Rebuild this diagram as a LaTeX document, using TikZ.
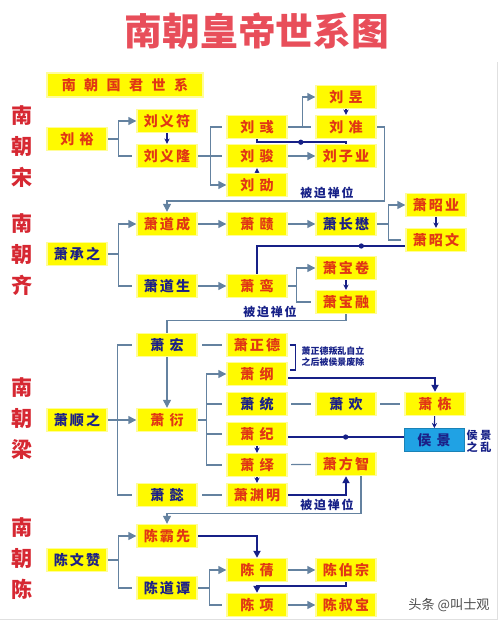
\documentclass[tikz,border=0pt]{standalone}
\usepackage{fontspec}
\usepackage{tikz}
\usetikzlibrary{arrows.meta,positioning,calc,decorations.markings}
\newfontfamily\cjk[LetterSpace=15]{Noto Sans CJK SC}
\newfontfamily\cjkwide[LetterSpace=60]{Noto Sans CJK SC}
\newfontfamily\cjkplain{Noto Sans CJK SC}
\definecolor{ktitle}{RGB}{232,78,90}
\definecolor{kera}{RGB}{214,40,50}
\definecolor{kred}{RGB}{225,55,20}
\definecolor{kblue}{RGB}{28,32,135}
\definecolor{kline}{RGB}{100,130,160}
\definecolor{kdark}{RGB}{22,32,135}
\definecolor{kyel}{RGB}{255,250,0}
\definecolor{khou}{RGB}{32,162,228}
\pgfdeclarelayer{bg}
\pgfsetlayers{bg,main}
\tikzset{
  king/.style={fill=kyel, draw=kyel!40, line width=0.8pt, minimum width=1.2cm,
    minimum height=0.46cm, inner sep=0pt, font=\cjk\bfseries\fontsize{8}{9}\selectfont},
  kr/.style={king, text=kred},
  kb/.style={king, text=kblue},
  hou/.style={king, fill=khou, draw=khou!80!black, line width=0.4pt, text=kblue},
  era/.style={text=kera, align=center, font=\cjkplain\bfseries\fontsize{12}{17.6}\selectfont},
  pass/.style={text=kdark, font=\cjk\bfseries\fontsize{6.8}{8}\selectfont},
  note/.style={text=kdark, align=left, font=\cjkplain\bfseries\fontsize{5.1}{6.2}\selectfont},
  tree/.style={draw=kline, line width=0.7pt},
  treearr/.style={tree, -{Triangle[length=4.5pt,width=4.5pt]}},
  plain/.style={tree, shorten >=2.5pt},
  usurp/.style={draw=kdark, line width=1.1pt},
  usurparr/.style={usurp, -{Triangle[length=4pt,width=4pt]}},
  smallarr/.style={draw=kdark, line width=0.6pt, -{Stealth[length=3pt,width=3pt]}},
  dotmid/.style={postaction={decorate}, decoration={markings,
    mark=at position #1 with {\fill[kdark] (0,0) circle (1.5pt);}}}
}

\begin{document}
\begin{tikzpicture}[x=0.02cm, y=-0.02cm]
  \useasboundingbox (0,0) rectangle (500,622);
  \draw[black!12] (0,619) -- (497,619) -- (497,62);
  % title
  \node[text=ktitle, font=\cjkplain\bfseries\fontsize{21.5}{24}\selectfont] (title) at (257,31) {南朝皇帝世系图};
  \node[kr, minimum width=3.12cm, minimum height=0.48cm, font=\cjkwide\bfseries\fontsize{8}{9}\selectfont] (head) at (125,85) {南朝国君世系};
  \node[era] (song) at (22,147) {南\\朝\\宋};
  \node[era] (qi) at (22,255) {南\\朝\\齐};
  \node[era] (liang) at (22,419) {南\\朝\\梁};
  \node[era] (chen) at (22,559) {南\\朝\\陈};
  % song
  \node[kr] (lyu) at (77,139) {刘 裕};
  \node[kr] (lyifu) at (167,121) {刘义符};
  \node[kr] (lyilong) at (167,156) {刘义隆};
  \node[kr] (lyu2) at (257,127) {刘 彧};
  \node[kr] (ljun) at (257,156) {刘 骏};
  \node[kr] (lshao) at (257,185) {刘 劭};
  \node[kr] (lyu3) at (346,97) {刘 昱};
  \node[kr] (lzhun) at (346,127) {刘 准};
  \node[kr] (lziye) at (346,156) {刘子业};
  % qi
  \node[kb] (xcz) at (77,254) {萧承之};
  \node[kr] (xdc) at (167,224) {萧道成};
  \node[kb] (xds) at (167,286) {萧道生};
  \node[kr] (xze) at (257,224) {萧 赜};
  \node[kb] (xczm) at (346,224) {萧长懋};
  \node[kr] (xzy) at (436,205) {萧昭业};
  \node[kr] (xzw) at (436,240) {萧昭文};
  \node[kr] (xluan) at (257,286) {萧 鸾};
  \node[kr] (xbj) at (346,268) {萧宝卷};
  \node[kr] (xbr) at (346,302) {萧宝融};
  % liang
  \node[kb] (xsz) at (77,420) {萧顺之};
  \node[kb] (xhong) at (167,345) {萧 宏};
  \node[kr] (xyan) at (167,420) {萧 衍};
  \node[kb] (xyi) at (167,495) {萧 懿};
  \node[kr] (xzd) at (257,345) {萧正德};
  \node[kr] (xgang) at (257,374) {萧 纲};
  \node[kb] (xtong) at (257,404) {萧 统};
  \node[kr] (xji) at (257,434) {萧 纪};
  \node[kr] (xyi2) at (257,465) {萧 绎};
  \node[kr] (xym) at (257,495) {萧渊明};
  \node[kb] (xhuan) at (346,404) {萧 欢};
  \node[kr] (xfz) at (346,464) {萧方智};
  \node[kr] (xdong) at (435,404) {萧 栋};
  \node[hou] (hj) at (434,440) {侯 景};
  % chen
  \node[kb] (cwz) at (77,560) {陈文赞};
  \node[kr] (cbx) at (167,536) {陈霸先};
  \node[kb] (cdt) at (167,588) {陈道谭};
  \node[kr] (cqian) at (257,570) {陈 蒨};
  \node[kr] (cbz) at (346,570) {陈伯宗};
  \node[kr] (cxu) at (257,605) {陈 项};
  \node[kr] (csb) at (346,605) {陈叔宝};
  % labels
  \node[pass] (pass1) at (327,193) {被迫禅位};
  \node[pass] (pass2) at (270,312) {被迫禅位};
  \node[pass] (pass3) at (327,505) {被迫禅位};
  \node[note] (zdnote) at (333,357) {萧正德叛乱自立\\之后被侯景废除};
  \node[note, align=center, font=\cjkplain\bfseries\fontsize{6.3}{7}\selectfont] (hjnote) at (479,441) {侯 景\\之 乱};
  \node[text=black!70, font=\cjkplain\fontsize{7.5}{9}\selectfont] (wm) at (449,605) {头条 @叫士观};

  \begin{pgfonlayer}{bg}
    % song
    \draw[treearr] (lyu.east) -- ++(11,0) |- (lyifu.west);
    \draw[plain] (lyu.east) -- ++(11,0) |- (lyilong.west);
    \draw[smallarr] (lyifu) -- (lyilong);
    \draw[plain] (lyilong.east) -- ++(13,0) |- (lyu2.west);
    \draw[plain] (lyilong.east) -- ++(13,0) |- (ljun.west);
    \draw[treearr] (lyilong.east) -- ++(13,0) |- (lshao.west);
    \draw[treearr] (ljun) -- (lziye);
    \draw[smallarr] (lshao) -- (ljun);
    \draw[treearr] (lyu2.east) -- ++(15,0) |- (lyu3.west);
    \draw[plain] (lyu2) -- (lzhun);
    \draw[smallarr] (lyu3) -- (lzhun);
    \draw[usurp, dotmid=0.5] (lyu2.south) -- ++(0,3) -| (lziye.north);
    \draw[treearr] (lzhun.east) -- ++(8,0) -- ++(0,74) -| (xdc.north);
    % qi
    \draw[treearr] (xcz.east) -- ++(11,0) |- (xdc.west);
    \draw[plain] (xcz.east) -- ++(11,0) |- (xds.west);
    \draw[treearr] (xdc) -- (xze);
    \draw[treearr] (xze) -- (xczm);
    \draw[treearr] (xczm.east) -- ++(12,0) |- (xzy.west);
    \draw[plain] (xczm.east) -- ++(12,0) |- (xzw.west);
    \draw[smallarr] (xzy) -- (xzw);
    \draw[usurp, dotmid=0.25] ($(xzw.west)+(0,6)$) -| (xluan.north);
    \draw[treearr] (xds) -- (xluan);
    \draw[treearr] (xluan.east) -- ++(9,0) |- (xbj.west);
    \draw[plain] (xluan.east) -- ++(9,0) |- (xbr.west);
    \draw[smallarr] (xbj) -- (xbr);
    \draw[treearr] (xbr.south) -- ++(0,6) -| (xyan.north);
    % liang
    \draw[treearr] (xsz) -- (xyan);
    \draw[plain] (xsz.east) -- ++(10,0) |- (xhong.west);
    \draw[plain] (xsz.east) -- ++(10,0) |- (xyi.west);
    \draw[plain, shorten <=2.5pt] (xhong) -- (xzd);
    \draw[plain, shorten <=2.5pt] (xyi) -- (xym);
    \draw[treearr] (xyan.east) -- ++(9,0) |- (xgang.west);
    \draw[plain] (xyan.east) -- ++(9,0) |- (xtong.west);
    \draw[plain] (xyan.east) -- ++(9,0) |- (xji.west);
    \draw[plain] (xyan.east) -- ++(9,0) |- (xyi2.west);
    \draw[draw=kdark, line width=0.8pt] ($(xzd.east)+(2,0)$) -- ++(6,0) |- ($(xgang.east)+(2,-4)$);
    \draw[usurparr] ($(xgang.east)+(0,4)$) -| (xdong.north);
    \draw[plain, shorten <=2pt] (xtong) -- (xhuan);
    \draw[plain, shorten <=2pt] (xhuan) -- (xdong);
    \draw[smallarr] (xdong) -- (hj);
    \draw[usurp, dotmid=0.5] ($(xji.east)+(0,3)$) -- ($(hj.west)+(0,-3)$);
    \draw[smallarr] (xji) -- (xyi2);
    \draw[smallarr] (xyi2) -- (xym);
    \draw[plain, shorten <=2pt] (xyi2) -- (xfz);
    \draw[usurparr] (xym.east) -| (xfz.south);
    \draw[treearr] ($(xfz.south)+(15,0)$) -- ++(0,37) -| (cbx.north);
    % chen
    \draw[treearr] (cwz.east) -- ++(11,0) |- (cbx.west);
    \draw[plain] (cwz.east) -- ++(11,0) |- (cdt.west);
    \draw[usurparr] (cbx.east) -| (cqian.north);
    \draw[treearr] (cdt.east) -- ++(12,0) |- (cqian.west);
    \draw[plain] (cdt.east) -- ++(12,0) |- (cxu.west);
    \draw[treearr] (cqian) -- (cbz);
    \draw[usurparr] (cbz.south) -- ++(0,4) -| (cxu.north);
    \draw[treearr] (cxu) -- (csb);
  \end{pgfonlayer}
\end{tikzpicture}
\end{document}
